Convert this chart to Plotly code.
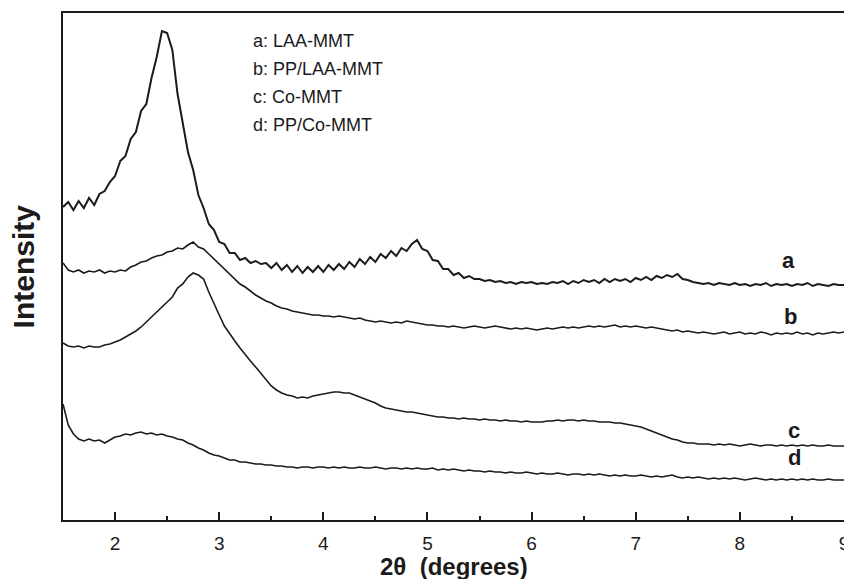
import plotly.graph_objects as go

# 2-theta grid (degrees), 0.05 step
two_theta = [
    1.50, 1.55, 1.60, 1.65, 1.70, 1.75, 1.80, 1.85, 1.90, 1.95,
    2.00, 2.05, 2.10, 2.15, 2.20, 2.25, 2.30, 2.35, 2.40, 2.45,
    2.50, 2.55, 2.60, 2.65, 2.70, 2.75, 2.80, 2.85, 2.90, 2.95,
    3.00, 3.05, 3.10, 3.15, 3.20, 3.25, 3.30, 3.35, 3.40, 3.45,
    3.50, 3.55, 3.60, 3.65, 3.70, 3.75, 3.80, 3.85, 3.90, 3.95,
    4.00, 4.05, 4.10, 4.15, 4.20, 4.25, 4.30, 4.35, 4.40, 4.45,
    4.50, 4.55, 4.60, 4.65, 4.70, 4.75, 4.80, 4.85, 4.90, 4.95,
    5.00, 5.05, 5.10, 5.15, 5.20, 5.25, 5.30, 5.35, 5.40, 5.45,
    5.50, 5.55, 5.60, 5.65, 5.70, 5.75, 5.80, 5.85, 5.90, 5.95,
    6.00, 6.05, 6.10, 6.15, 6.20, 6.25, 6.30, 6.35, 6.40, 6.45,
    6.50, 6.55, 6.60, 6.65, 6.70, 6.75, 6.80, 6.85, 6.90, 6.95,
    7.00, 7.05, 7.10, 7.15, 7.20, 7.25, 7.30, 7.35, 7.40, 7.45,
    7.50, 7.55, 7.60, 7.65, 7.70, 7.75, 7.80, 7.85, 7.90, 7.95,
    8.00, 8.05, 8.10, 8.15, 8.20, 8.25, 8.30, 8.35, 8.40, 8.45,
    8.50, 8.55, 8.60, 8.65, 8.70, 8.75, 8.80, 8.85, 8.90, 8.95,
    9.00,
]

# intensities (arbitrary units, curves stacked with offsets)
laa_mmt = [
    313, 318, 310, 319, 312, 322, 315, 326, 329, 338,
    344, 359, 364, 381, 388, 409, 416, 442, 463, 489,
    487, 470, 426, 397, 368, 350, 325, 312, 296, 290,
    278, 276, 267, 267, 260, 262, 257, 259, 256, 257,
    252, 257, 250, 255, 248, 254, 247, 253, 248, 254,
    248, 255, 250, 256, 251, 258, 253, 261, 256, 263,
    258, 266, 262, 269, 264, 272, 269, 276, 280, 271,
    269, 260, 259, 251, 251, 245, 247, 242, 244, 241,
    241, 239, 240, 238, 239, 237, 238, 236, 238, 237,
    238, 236, 237, 236, 238, 237, 239, 236, 239, 237,
    240, 238, 240, 237, 241, 238, 241, 239, 241, 238,
    242, 240, 243, 240, 244, 242, 245, 243, 246, 241,
    240, 238, 237, 236, 237, 235, 237, 236, 235, 237,
    235, 236, 234, 236, 235, 237, 234, 236, 235, 236,
    234, 236, 235, 237, 234, 236, 235, 234, 236, 235,
    235,
]

pp_laa_mmt = [
    257, 250, 248, 250, 247, 249, 248, 250, 247, 249,
    248, 250, 249, 253, 255, 258, 259, 262, 264, 265,
    268, 269, 272, 271, 275, 278, 273, 271, 266, 261,
    255, 250, 245, 240, 236, 233, 229, 225, 222, 219,
    217, 214, 212, 211, 209, 208, 207, 206, 205, 205,
    204, 204, 203, 204, 203, 202, 201, 202, 200, 199,
    198, 199, 198, 197, 198, 197, 199, 198, 197, 196,
    195, 195, 194, 194, 193, 194, 193, 192, 193, 194,
    193, 192, 193, 194, 193, 192, 191, 192, 191, 192,
    191, 190, 191, 192, 191, 192, 193, 192, 193, 192,
    193, 194, 193, 194, 193, 194, 195, 193, 194, 193,
    194, 193, 192, 193, 192, 191, 190, 189, 190, 188,
    189, 188, 187, 188, 187, 186, 187, 188, 186, 187,
    188, 186, 187, 186, 188, 187, 185, 187, 186, 187,
    186, 188, 186, 187, 185, 187, 186, 187, 188, 187,
    188,
]

co_mmt = [
    177, 174, 173, 174, 172, 174, 173, 173, 175, 176,
    178, 180, 183, 186, 189, 193, 198, 203, 208, 213,
    218, 223, 232, 236, 243, 247, 245, 241, 228, 216,
    205, 194, 186, 179, 172, 165, 159, 153, 147, 140,
    134, 130, 127, 125, 124, 122, 123, 122, 124, 125,
    126, 127, 128, 128, 127, 127, 125, 123, 121, 119,
    117, 114, 112, 111, 110, 109, 108, 108, 107, 106,
    105, 104, 103, 103, 102, 102, 101, 102, 101, 101,
    100, 101, 100, 100, 99, 100, 99, 99, 98, 99,
    98, 98, 98, 99, 99, 100, 99, 100, 100, 99,
    100, 99, 99, 98, 98, 98, 97, 97, 96, 95,
    94, 93, 91, 89, 87, 85, 83, 81, 80, 78,
    77, 77, 76, 76, 76, 75, 76, 75, 76, 75,
    74, 75, 76, 75, 74, 75, 75, 74, 75, 74,
    75, 74, 75, 74, 75, 74, 74, 75, 74, 74,
    74,
]

pp_co_mmt = [
    116, 95, 86, 81, 79, 81, 79, 80, 77, 80,
    83, 84, 86, 85, 87, 88, 86, 87, 85, 86,
    84, 83, 81, 80, 77, 75, 72, 70, 67, 65,
    64, 62, 60, 60, 58, 58, 57, 56, 56, 55,
    55, 54, 54, 53, 53, 52, 53, 53, 52, 53,
    53, 52, 53, 52, 53, 52, 52, 53, 52, 52,
    53, 52, 51, 52, 52, 51, 52, 51, 52, 51,
    51, 52, 50, 51, 50, 51, 50, 49, 50, 49,
    49, 48, 49, 48, 48, 47, 48, 47, 47, 48,
    47, 46, 47, 46, 46, 47, 46, 45, 46, 46,
    45, 46, 45, 46, 45, 44, 45, 44, 45, 44,
    44, 45, 44, 43, 44, 43, 44, 45, 43, 42,
    43, 42, 43, 42, 41, 42, 41, 42, 41, 42,
    41, 40, 41, 42, 41, 40, 41, 40, 41, 40,
    41, 40, 41, 40, 41, 40, 40, 41, 40, 40,
    40,
]

curve_letters = ["a", "b", "c", "d"]
sample_names = ["LAA-MMT", "PP/LAA-MMT", "Co-MMT", "PP/Co-MMT"]
series = [laa_mmt, pp_laa_mmt, co_mmt, pp_co_mmt]

FONT = "Arial, Liberation Sans, Helvetica, sans-serif"
INK = "#1b1b1b"

fig = go.Figure()

for letter, values in zip(curve_letters, series):
    fig.add_trace(go.Scatter(
        x=two_theta, y=values, mode="lines",
        line=dict(color=INK, width=2.0 if letter == "a" else 1.6),
        name=letter, showlegend=False,
    ))

# curve letters at right end
letter_pos = {"a": (8.47, 260), "b": (8.49, 204), "c": (8.52, 90), "d": (8.52, 63)}
for letter in curve_letters:
    lx, ly = letter_pos[letter]
    fig.add_annotation(x=lx, y=ly, text=f"<b>{letter}</b>", showarrow=False,
                       font=dict(family=FONT, size=22, color=INK),
                       xanchor="center", yanchor="middle")

# key text block
key_y = [479, 451, 423, 395]
for letter, name, ky in zip(curve_letters, sample_names, key_y):
    fig.add_annotation(x=3.31, y=ky, text=f"{letter}: {name}", showarrow=False,
                       font=dict(family=FONT, size=18, color=INK),
                       xanchor="left", yanchor="middle")

# axis titles
fig.add_annotation(xref="paper", yref="paper", x=0.5, y=-0.091,
                   text="<b>2\u03b8\u00a0\u00a0(degrees)</b>", showarrow=False,
                   font=dict(family=FONT, size=24, color=INK),
                   xanchor="center", yanchor="middle")
fig.add_annotation(xref="paper", yref="paper", x=-0.05, y=0.5,
                   text="<b>Intensity</b>", showarrow=False, textangle=-90,
                   font=dict(family=FONT, size=30, color=INK),
                   xanchor="center", yanchor="middle")

fig.update_xaxes(
    range=[1.5, 9], tick0=2, dtick=1,
    ticks="inside", ticklen=8, tickwidth=1.5, tickcolor=INK,
    minor=dict(dtick=0.5, tick0=1.5, ticks="inside", ticklen=4, tickwidth=1.5, tickcolor=INK),
    showline=True, linecolor=INK, linewidth=1.5, mirror=True,
    showgrid=False, zeroline=False,
    tickfont=dict(family=FONT, size=19, color=INK),
    ticklabelstandoff=5, ticklabeloverflow="allow",
)
fig.update_yaxes(
    range=[0, 507], showticklabels=False, ticks="",
    showline=True, linecolor=INK, linewidth=1.5, mirror=True,
    showgrid=False, zeroline=False,
)

# page body keeps an 8px margin, so the figure is 8px smaller each way
fig.update_layout(
    width=844, height=571,
    margin=dict(l=55, r=3, t=5, b=59),
    paper_bgcolor="white", plot_bgcolor="white",
    showlegend=False,
)

fig.write_html("out.html")
